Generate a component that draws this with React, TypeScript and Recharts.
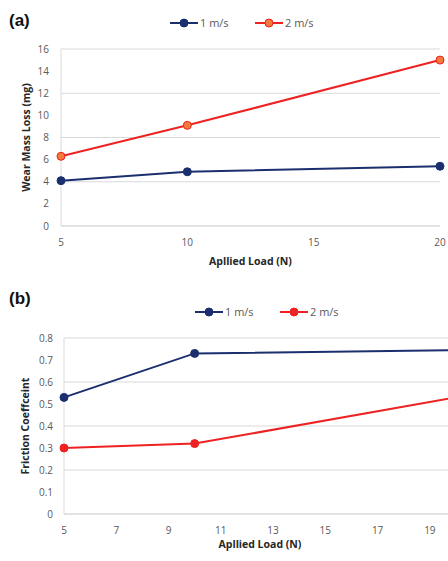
import React from "react";
import {
  LineChart,
  Line,
  XAxis,
  YAxis,
  CartesianGrid,
  Legend,
} from "recharts";

const loadsA = [5, 10, 20];
const wear1 = [4.1, 4.9, 5.4];
const wear2 = [6.3, 9.1, 15.0];
const wearTicksY = [0, 2, 4, 6, 8, 10, 12, 14, 16];
const wearTicksX = [5, 10, 15, 20];

const loadsB = [5, 10, 20];
const fric1 = [0.53, 0.73, 0.745];
const fric2 = [0.3, 0.32, 0.53];
const fricTicksY = [0, 0.1, 0.2, 0.3, 0.4, 0.5, 0.6, 0.7, 0.8];
const fricTicksX = [5, 7, 9, 11, 13, 15, 17, 19];

const NAVY = "#1b2f6e";
const RED = "#ee2222";
const ORANGE = "#f47a3c";
const FONT = "'Open Sans', 'Noto Sans', sans-serif";

const wearData = loadsA.map((x, i) => ({ x, s1: wear1[i], s2: wear2[i] }));
const fricData = loadsB.map((x, i) => ({ x, s1: fric1[i], s2: fric2[i] }));

const tickStyle = { fontSize: 10, fill: "#595959", fontFamily: FONT };
const titleStyle = {
  fontSize: 10.5,
  fontWeight: 700,
  fill: "#262626",
  fontFamily: FONT,
  textAnchor: "middle" as const,
};

const LegendBox: React.FC<{ items: { label: string; stroke: string; fill: string }[] }> = ({ items }) => (
  <div style={{ display: "flex", gap: 25, fontFamily: FONT, fontSize: 11, color: "#595959" }}>
    {items.map((it) => (
      <div key={it.label} style={{ display: "flex", alignItems: "center", width: 60 }}>
        <svg width={28} height={10}>
          <line x1={0} y1={5} x2={28} y2={5} stroke={it.stroke} strokeWidth={2} />
          <circle cx={14} cy={5} r={4} fill={it.fill} stroke={it.stroke} strokeWidth={1} />
        </svg>
        <span style={{ marginLeft: 2, whiteSpace: "nowrap" }}>{it.label}</span>
      </div>
    ))}
  </div>
);

const PanelTag: React.FC<{ text: string; top: number }> = ({ text, top }) => (
  <div
    style={{
      position: "absolute",
      left: 9,
      top,
      fontFamily: "'Liberation Sans', Arial, sans-serif",
      fontWeight: 700,
      fontSize: 17,
      color: "#111",
    }}
  >
    {text}
  </div>
);

export default function App() {
  return (
    <div style={{ position: "relative", width: 448, height: 561, overflow: "hidden", background: "#fff" }}>
      <style>{"body{margin:0;overflow:hidden}"}</style>
      <PanelTag text="(a)" top={11} />
      <PanelTag text="(b)" top={289} />
      <div style={{ position: "absolute", left: 0, top: 0 }}>
        <LineChart width={448} height={280} data={wearData} margin={{ top: 29, right: 8, bottom: 15, left: 21 }}>
          <Legend
            verticalAlign="top"
            height={20}
            wrapperStyle={{ top: 15, left: 170, width: 200 }}
            content={() => (
              <LegendBox
                items={[
                  { label: "1 m/s", stroke: NAVY, fill: NAVY },
                  { label: "2 m/s", stroke: RED, fill: ORANGE },
                ]}
              />
            )}
          />
          <CartesianGrid vertical={false} stroke="#d9d9d9" />
          <XAxis
            dataKey="x"
            type="number"
            domain={[5, 20]}
            ticks={wearTicksX}
            tickLine={false}
            axisLine={{ stroke: "#d9d9d9" }}
            tick={tickStyle}
            tickMargin={7}
            height={39}
            label={{ value: "Apllied Load (N)", position: "insideBottom", offset: 0, style: titleStyle }}
          />
          <YAxis
            domain={[0, 16]}
            ticks={wearTicksY}
            width={40}
            tickLine={false}
            axisLine={{ stroke: "#d9d9d9" }}
            tick={tickStyle}
            tickMargin={6}
            label={{ value: "Wear Mass Loss (mg)", angle: -90, position: "insideLeft", offset: 5, style: titleStyle }}
          />
          <Line
            dataKey="s1"
            name="1 m/s"
            stroke={NAVY}
            strokeWidth={2}
            dot={{ r: 4, fill: NAVY, stroke: NAVY, strokeWidth: 1 }}
            isAnimationActive={false}
          />
          <Line
            dataKey="s2"
            name="2 m/s"
            stroke={RED}
            strokeWidth={2}
            dot={{ r: 4, fill: ORANGE, stroke: RED, strokeWidth: 1 }}
            isAnimationActive={false}
          />
        </LineChart>
      </div>
      <div style={{ position: "absolute", left: 0, top: 280 }}>
        <LineChart width={470} height={281} data={fricData} margin={{ top: 38, right: 14, bottom: 13, left: 24 }}>
          <Legend
            verticalAlign="top"
            height={20}
            wrapperStyle={{ top: 24, left: 195, width: 200 }}
            content={() => (
              <LegendBox
                items={[
                  { label: "1 m/s", stroke: NAVY, fill: NAVY },
                  { label: "2 m/s", stroke: RED, fill: RED },
                ]}
              />
            )}
          />
          <CartesianGrid vertical={false} stroke="#d9d9d9" />
          <XAxis
            dataKey="x"
            type="number"
            domain={[5, 20]}
            ticks={fricTicksX}
            tickLine={false}
            axisLine={{ stroke: "#d9d9d9" }}
            tick={tickStyle}
            tickMargin={7}
            height={34}
            label={{ value: "Apllied Load (N)", position: "insideBottom", offset: 0, style: titleStyle }}
          />
          <YAxis
            domain={[0, 0.8]}
            ticks={fricTicksY}
            width={40}
            tickLine={false}
            axisLine={{ stroke: "#d9d9d9" }}
            tick={tickStyle}
            tickMargin={5}
            label={{ value: "Friction Coeffceint", angle: -90, position: "insideLeft", offset: 1, style: titleStyle }}
          />
          <Line
            dataKey="s1"
            name="1 m/s"
            stroke={NAVY}
            strokeWidth={2}
            dot={{ r: 4, fill: NAVY, stroke: NAVY, strokeWidth: 1 }}
            isAnimationActive={false}
          />
          <Line
            dataKey="s2"
            name="2 m/s"
            stroke={RED}
            strokeWidth={2}
            dot={{ r: 4, fill: RED, stroke: RED, strokeWidth: 1 }}
            isAnimationActive={false}
          />
        </LineChart>
      </div>
    </div>
  );
}
